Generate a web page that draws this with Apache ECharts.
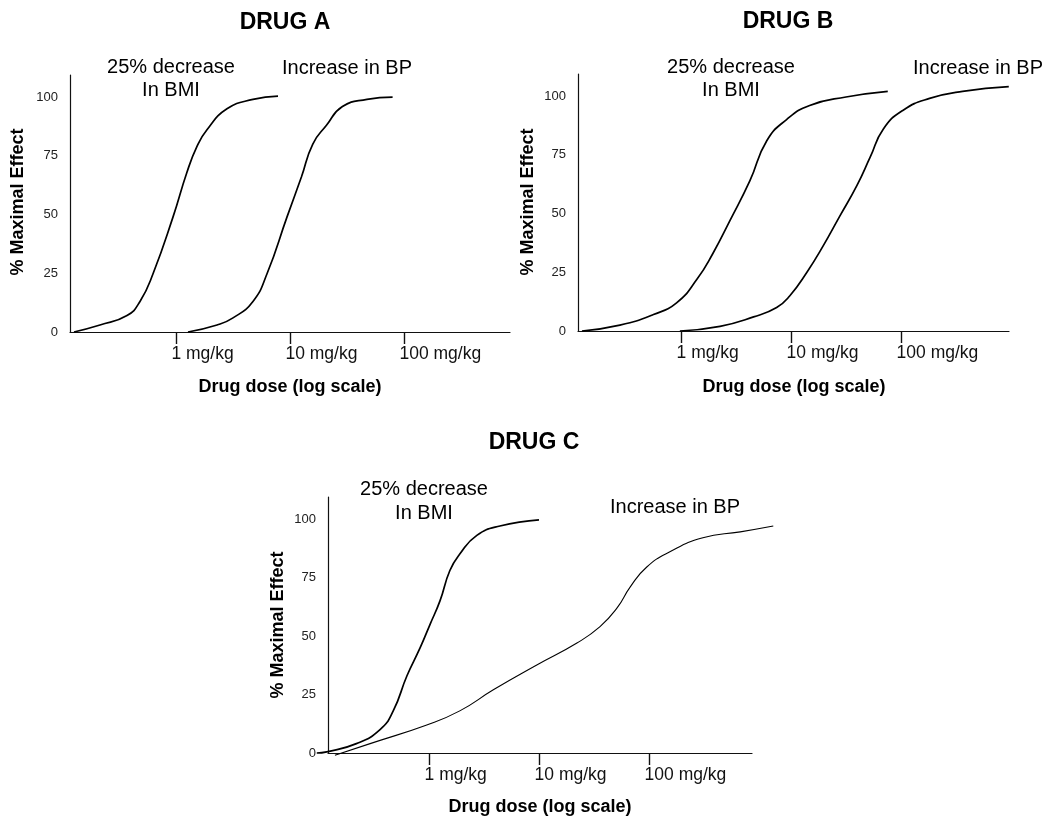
<!DOCTYPE html>
<html>
<head>
<meta charset="utf-8">
<script src="https://cdn.jsdelivr.net/npm/echarts@6/dist/echarts.min.js"></script>
<style>
html,body{margin:0;padding:0;background:#fff;}
#chart{width:1052px;height:816px;}
</style>
</head>
<body>
<div id="chart"></div>
<script>
// ---- Data (x = log10 of dose in mg/kg, y = % maximal effect) ----
const doseTickValues = [0, 1, 2];
const doseTickLabels = ['1 mg/kg', '10 mg/kg', '100 mg/kg'];
const effectTickValues = [0, 25, 50, 75, 100];

const drugA_BMI = [[-0.895,0],[-0.667,3],[-0.43,7],[-0.316,13],[-0.2,25],[-0.026,49],[0.096,68],[0.184,79],[0.27,86],[0.447,95],[0.675,99],[0.895,100.4]];
const drugA_BP  = [[0.105,0],[0.36,3],[0.5,6],[0.675,13],[0.8,25],[0.974,49],[1.1,66],[1.2,80],[1.32,88],[1.46,96],[1.675,99],[1.9,100]];

const drugB_BMI = [[-0.9,0],[-0.555,2.5],[-0.25,7],[-0.04,12],[0.145,22],[0.29,33],[0.445,47],[0.627,64],[0.78,81],[0.96,90],[1.17,96],[1.5,99.6],[1.88,102]];
const drugB_BP  = [[-0.01,0],[0.355,2],[0.66,6],[0.87,10],[0.99,15],[1.145,25],[1.29,36],[1.445,49],[1.6,62],[1.72,74],[1.84,86],[2.02,94],[2.26,99],[2.56,102],[2.98,104]];

const drugC_BMI = [[-1.02,0],[-0.93,0.5],[-0.66,4],[-0.445,10],[-0.325,18],[-0.2,33],[-0.08,45],[0.01,55],[0.1,65],[0.19,78],[0.28,85],[0.435,93],[0.645,97],[1.0,99.6]];
const drugC_BP  = [[-0.855,-1],[-0.535,4],[-0.02,12],[0.28,18],[0.585,27],[0.98,37.6],[1.345,47],[1.555,54],[1.71,62],[1.83,71],[1.98,79.5],[2.19,86],[2.49,92],[2.83,94.5],[3.13,97]];

const panelTitles = ['DRUG A', 'DRUG B', 'DRUG C'];
const bmiLabel = ['25% decrease', 'In BMI'];
const bpLabel = 'Increase in BP';
const yName = '% Maximal Effect';
const xName = 'Drug dose (log scale)';

// ---- Layout ----
const FONT = "'Liberation Sans', Arial, Helvetica, sans-serif";
const panels = [
  {grid:{left:70, top:75, width:440, height:257}, xmin:-0.93, xmax:2.93,
   plot:{left:70, top:75, width:440, height:257}, pmin:-0.93, pmax:2.93,
   title:[285,23], bmi:[171,67,90], bp:[347,68], yname:[18,202], xname:[290,387], bmiData:drugA_BMI, bpData:drugA_BP, bpWidth:1.7},
  {grid:{left:578, top:74, width:431, height:257}, xmin:-0.936, xmax:2.982,
   plot:{left:578, top:74, width:431, height:257}, pmin:-0.936, pmax:2.982,
   title:[788,22], bmi:[731,67,90], bp:[978,68], yname:[528,202], xname:[794,387], bmiData:drugB_BMI, bpData:drugB_BP, bpWidth:1.7},
  {grid:{left:328, top:497, width:424, height:256}, xmin:-0.918, xmax:2.936,
   // wider plotting area (same scale: 110 px per decade) so the BP curve can run past the axis end
   plot:{left:316, top:497, width:474, height:256}, pmin:-1.027, pmax:3.282,
   title:[534,443], bmi:[424,489,513], bp:[675,507], yname:[278,625], xname:[540,807], bmiData:drugC_BMI, bpData:drugC_BP, bpWidth:1.1}
];
const labelShift = -0.04;

const grids = [], xAxes = [], yAxes = [], series = [], graphics = [];
panels.forEach((p, i) => {
  grids.push(Object.assign({containLabel:false}, p.grid));
  const gAxes = grids.length - 1;
  xAxes.push({
    type:'value', gridIndex:gAxes, min:p.xmin, max:p.xmax,
    axisLine:{show:true, onZero:false, lineStyle:{color:'#111', width:1.2}},
    axisTick:{show:true, inside:false, length:12, customValues:doseTickValues, lineStyle:{color:'#111', width:1.4}},
    axisLabel:{show:true, customValues:doseTickValues.map(v => v + labelShift), align:'left', margin:13,
      fontSize:17.5, color:'#111', fontFamily:FONT,
      formatter: v => doseTickLabels[Math.round(v)] || ''},
    splitLine:{show:false}
  });
  yAxes.push({
    type:'value', gridIndex:gAxes, min:0, max:109.4,
    axisLine:{show:true, onZero:false, lineStyle:{color:'#111', width:1.2}},
    axisTick:{show:false},
    axisLabel:{show:true, customValues:effectTickValues, margin:12, fontSize:13, color:'#222', fontFamily:FONT},
    splitLine:{show:false}
  });
  grids.push(Object.assign({containLabel:false}, p.plot));
  const gPlot = grids.length - 1;
  xAxes.push({type:'value', gridIndex:gPlot, min:p.pmin, max:p.pmax, show:false});
  yAxes.push({type:'value', gridIndex:gPlot, min:0, max:109.4, show:false});
  const xi = xAxes.length - 1, yi = yAxes.length - 1;
  series.push({
    type:'line', xAxisIndex:xi, yAxisIndex:yi, data:p.bmiData, smooth:0.5,
    showSymbol:false, clip:false, lineStyle:{color:'#000', width:1.7}, silent:true
  });
  series.push({
    type:'line', xAxisIndex:xi, yAxisIndex:yi, data:p.bpData, smooth:0.5,
    showSymbol:false, clip:false, lineStyle:{color:'#000', width:p.bpWidth}, silent:true
  });
  const txt = (text, x, y, size, bold, rot) => ({
    type:'text', x:x, y:y, rotation:rot || 0,
    style:{text:text, x:0, y:0, align:'center', verticalAlign:'middle',
      font:(bold ? 'bold ' : '') + size + 'px ' + FONT, fill:'#000'}
  });
  graphics.push(txt(panelTitles[i], p.title[0], p.title[1], 23, true));
  graphics.push(txt(bmiLabel[0], p.bmi[0], p.bmi[1], 20, false));
  graphics.push(txt(bmiLabel[1], p.bmi[0], p.bmi[2], 20, false));
  graphics.push(txt(bpLabel, p.bp[0], p.bp[1], 20, false));
  graphics.push(txt(yName, p.yname[0], p.yname[1], 18, true, Math.PI/2));
  graphics.push(txt(xName, p.xname[0], p.xname[1], 18, true));
});

const chart = echarts.init(document.getElementById('chart'), null, {renderer:'canvas'});
chart.setOption({
  animation:false,
  backgroundColor:'#fff',
  textStyle:{fontFamily:FONT},
  grid:grids, xAxis:xAxes, yAxis:yAxes, series:series, graphic:graphics
});
</script>
</body>
</html>
